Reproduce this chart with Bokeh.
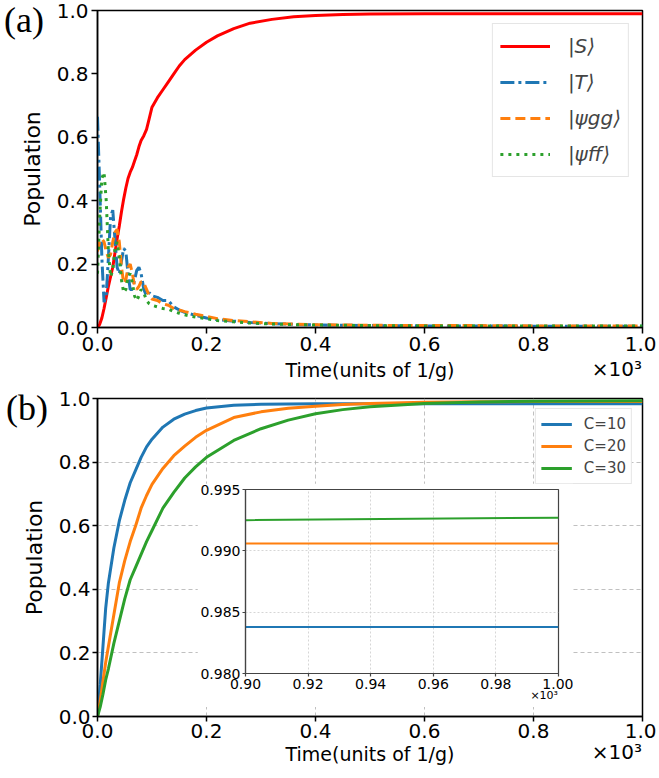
from bokeh.plotting import figure
from bokeh.models import Range1d, FixedTicker, PrintfTickFormatter, Legend, LegendItem, Div, Spacer
from bokeh.layouts import column, row
from bokeh.embed import file_html
from bokeh.resources import INLINE

# ---------------- data (time in units of 10^3 / g) ----------------
t_a = [0.0, 0.004, 0.008, 0.012, 0.016, 0.020, 0.024, 0.028, 0.032, 0.036,
       0.040, 0.044, 0.048, 0.052, 0.056, 0.060, 0.064, 0.068, 0.072, 0.076,
       0.080, 0.085, 0.090, 0.095, 0.100, 0.110, 0.120, 0.130, 0.140, 0.150,
       0.160, 0.180, 0.200, 0.220, 0.250, 0.280, 0.320, 0.360, 0.400, 0.450,
       0.500, 0.600, 0.700, 0.800, 0.900, 1.000]
pop_S = [0.0, 0.01, 0.03, 0.06, 0.095, 0.13, 0.16, 0.19, 0.235, 0.28,
         0.32, 0.365, 0.405, 0.44, 0.47, 0.49, 0.505, 0.525, 0.545, 0.57,
         0.59, 0.605, 0.625, 0.66, 0.695, 0.725, 0.75, 0.775, 0.80, 0.825,
         0.845, 0.875, 0.90, 0.92, 0.943, 0.96, 0.972, 0.98, 0.984, 0.987,
         0.989, 0.99, 0.99, 0.99, 0.99, 0.99]
pop_T = [0.665, 0.45, 0.22, 0.08, 0.10, 0.22, 0.35, 0.37, 0.28, 0.19,
         0.17, 0.21, 0.25, 0.24, 0.17, 0.12, 0.12, 0.15, 0.18, 0.19,
         0.17, 0.12, 0.10, 0.11, 0.10, 0.095, 0.085, 0.085, 0.065, 0.055,
         0.048, 0.038, 0.03, 0.025, 0.02, 0.016, 0.012, 0.01, 0.008, 0.007,
         0.006, 0.005, 0.005, 0.004, 0.004, 0.004]
pop_gg = [0.24, 0.27, 0.28, 0.27, 0.24, 0.22, 0.23, 0.27, 0.30, 0.31,
          0.27, 0.19, 0.14, 0.15, 0.19, 0.20, 0.17, 0.13, 0.12, 0.13,
          0.145, 0.14, 0.12, 0.10, 0.09, 0.085, 0.075, 0.07, 0.06, 0.055,
          0.05, 0.042, 0.035, 0.028, 0.022, 0.018, 0.013, 0.011, 0.009, 0.008,
          0.007, 0.006, 0.006, 0.005, 0.005, 0.005]
pop_ff = [0.17, 0.35, 0.47, 0.49, 0.40, 0.24, 0.16, 0.18, 0.25, 0.27,
          0.22, 0.15, 0.11, 0.12, 0.16, 0.17, 0.14, 0.10, 0.085, 0.10,
          0.12, 0.11, 0.085, 0.075, 0.07, 0.065, 0.06, 0.058, 0.05, 0.045,
          0.04, 0.033, 0.028, 0.022, 0.018, 0.014, 0.011, 0.009, 0.008, 0.007,
          0.006, 0.005, 0.005, 0.005, 0.005, 0.005]

t_b = [0.0, 0.005, 0.01, 0.015, 0.02, 0.03, 0.04, 0.05, 0.06, 0.07,
       0.08, 0.09, 0.10, 0.12, 0.14, 0.16, 0.18, 0.20, 0.25, 0.30,
       0.35, 0.40, 0.45, 0.50, 0.60, 0.70, 0.80, 0.90, 1.00]
pop_c10 = [0.0, 0.10, 0.22, 0.34, 0.42, 0.53, 0.615, 0.68, 0.735, 0.775,
           0.815, 0.848, 0.872, 0.91, 0.935, 0.951, 0.962, 0.97, 0.979, 0.982,
           0.983, 0.9835, 0.9837, 0.9838, 0.9838, 0.9838, 0.9838, 0.9838, 0.9838]
pop_c20 = [0.0, 0.05, 0.11, 0.17, 0.22, 0.32, 0.42, 0.49, 0.55, 0.60,
           0.655, 0.695, 0.73, 0.78, 0.82, 0.85, 0.878, 0.90, 0.94, 0.958,
           0.969, 0.976, 0.981, 0.984, 0.988, 0.9897, 0.9903, 0.9906, 0.9906]
pop_c30 = [0.0, 0.03, 0.07, 0.115, 0.15, 0.23, 0.30, 0.37, 0.43, 0.47,
           0.51, 0.55, 0.585, 0.655, 0.705, 0.75, 0.785, 0.815, 0.868, 0.905,
           0.932, 0.952, 0.965, 0.974, 0.984, 0.989, 0.9915, 0.9925, 0.9927]

main_ticks = [0.0, 0.2, 0.4, 0.6, 0.8, 1.0]
inset_xticks = [0.90, 0.92, 0.94, 0.96, 0.98, 1.00]
inset_yticks = [0.980, 0.985, 0.990, 0.995]

legend_a = ["|S\u27e9", "|T\u27e9", "|\u03c8gg\u27e9", "|\u03c8ff\u27e9"]
legend_b = ["C=10", "C=20", "C=30"]
panel_tags = ["(a)", "(b)"]
scale_tag = "\u00d710\u00b3"

BLUE, ORANGE, GREEN, RED = "#1f77b4", "#ff7f0e", "#2ca02c", "#ff0000"
FONT = "DejaVu Sans"


def style_axes(p, tick_fs="20px", color="black", lw=1.5, tick_out=6, standoff=3):
    for ax in (p.xaxis[0], p.yaxis[0]):
        ax.axis_line_color = color
        ax.axis_line_width = lw
        ax.major_tick_line_color = color
        ax.major_tick_line_width = lw
        ax.major_tick_in = 0
        ax.major_tick_out = tick_out
        ax.minor_tick_line_color = None
        ax.major_label_text_font = FONT
        ax.major_label_text_font_size = tick_fs
        ax.major_label_text_color = "black"
        ax.major_label_standoff = standoff
        ax.axis_label_text_font = FONT
        ax.axis_label_text_font_style = "normal"
        ax.axis_label_text_color = "black"
        ax.axis_label_text_font_size = "19px"
    p.outline_line_color = color
    p.outline_line_width = lw
    p.outline_line_alpha = 1.0


# ---------------- panel (a) ----------------
pa = figure(width=656, height=388, x_range=Range1d(0, 1), y_range=Range1d(0, 1),
            output_backend="svg", toolbar_location=None,
            min_border_left=97, min_border_right=14, min_border_top=10,
            min_border_bottom=61, background_fill_color="white",
            border_fill_color="white")
style_axes(pa)
pa.yaxis.axis_label_text_font_size = "22px"
pa.grid.visible = False
pa.xaxis.ticker = FixedTicker(ticks=main_ticks)
pa.yaxis.ticker = FixedTicker(ticks=main_ticks)
pa.xaxis.formatter = PrintfTickFormatter(format="%.1f")
pa.yaxis.formatter = PrintfTickFormatter(format="%.1f")
pa.xaxis.axis_label = "Time(units of 1/g)"
pa.yaxis.axis_label = "Population"
pa.xaxis.axis_label_standoff = 5
pa.yaxis.axis_label_standoff = 9

rS = pa.line(t_a, pop_S, line_color=RED, line_width=3)
rT = pa.line(t_a, pop_T, line_color=BLUE, line_width=3, line_dash="14 4 3 4")
rgg = pa.line(t_a, pop_gg, line_color=ORANGE, line_width=3, line_dash="10 5")
rff = pa.line(t_a, pop_ff, line_color=GREEN, line_width=3, line_dash="3 5")

leg_a = Legend(items=[LegendItem(label=l, renderers=[r]) for l, r in
                      zip(legend_a, [rS, rT, rgg, rff])],
               location="top_right", margin=13, padding=7, spacing=6,
               glyph_width=50, glyph_height=30, label_height=30,
               label_standoff=18, label_text_font=FONT,
               label_text_font_size="20px", label_text_font_style="italic",
               border_line_color="#cccccc", border_line_width=1,
               background_fill_color="white", background_fill_alpha=0.9)
pa.add_layout(leg_a)

# ---------------- panel (b) ----------------
pb = figure(width=656, height=382, x_range=Range1d(0, 1), y_range=Range1d(0, 1),
            output_backend="svg", toolbar_location=None,
            min_border_left=97, min_border_right=14, min_border_top=10,
            min_border_bottom=54, background_fill_color="white",
            border_fill_color="white")
style_axes(pb, tick_out=5, standoff=2)
pb.yaxis.axis_label_text_font_size = "22px"
pb.xaxis.ticker = FixedTicker(ticks=main_ticks)
pb.yaxis.ticker = FixedTicker(ticks=main_ticks)
pb.xaxis.formatter = PrintfTickFormatter(format="%.1f")
pb.yaxis.formatter = PrintfTickFormatter(format="%.1f")
pb.xaxis.axis_label = "Time(units of 1/g)"
pb.yaxis.axis_label = "Population"
pb.xaxis.axis_label_standoff = 2
pb.yaxis.axis_label_standoff = 9
pb.grid.grid_line_color = "#b0b0b0"
pb.grid.grid_line_dash = "4 3"
pb.grid.grid_line_width = 1
pb.grid.grid_line_alpha = 0.8

r10 = pb.line(t_b, pop_c10, line_color=BLUE, line_width=3)
r20 = pb.line(t_b, pop_c20, line_color=ORANGE, line_width=3)
r30 = pb.line(t_b, pop_c30, line_color=GREEN, line_width=3)

leg_b = Legend(items=[LegendItem(label=l, renderers=[r]) for l, r in
                      zip(legend_b, [r10, r20, r30])],
               location="top_right", margin=10, padding=5, spacing=2,
               glyph_width=31, glyph_height=20, label_height=20,
               label_standoff=12, label_text_font=FONT,
               label_text_font_size="15px",
               border_line_color="#cccccc", border_line_width=1,
               background_fill_color="white", background_fill_alpha=1.0)
pb.add_layout(leg_b)

# ---------------- inset (a row pulled up over panel b) ----------------
flow_y = 388 + 382          # bottom of the two stacked panels
IN_TOP, IN_LEFT, IN_W, IN_H = 483, 197, 376, 224
pin = figure(width=IN_W, height=IN_H, x_range=Range1d(0.9, 1.0),
             y_range=Range1d(0.98, 0.995), output_backend="svg",
             toolbar_location=None, min_border_left=45, min_border_right=15,
             min_border_top=6, min_border_bottom=34,
             background_fill_color="white", border_fill_color="white")
style_axes(pin, tick_fs="14px", color="#444444", lw=1.2, tick_out=3, standoff=2)
pin.xaxis.ticker = FixedTicker(ticks=inset_xticks)
pin.yaxis.ticker = FixedTicker(ticks=inset_yticks)
pin.xaxis.formatter = PrintfTickFormatter(format="%.2f")
pin.yaxis.formatter = PrintfTickFormatter(format="%.3f")
pin.grid.grid_line_color = "#cccccc"
pin.grid.grid_line_dash = "2 2"
pin.grid.grid_line_width = 0.8
pin.line(t_b, pop_c10, line_color=BLUE, line_width=2)
pin.line(t_b, pop_c20, line_color=ORANGE, line_width=2)
pin.line(t_b, pop_c30, line_color=GREEN, line_width=2)

inset_row = row(Spacer(width=IN_LEFT, height=IN_H), pin,
                margin=(IN_TOP - flow_y, 0, 0, 0),
                styles={"position": "relative", "z-index": "5"})
flow_y = IN_TOP + IN_H

# ---------------- free texts: (a), (b), x10^3 ----------------
texts = []


def add_text(txt, top, left, w, h, font, size, align="left"):
    global flow_y
    d = Div(text=txt, width=w, height=h, margin=(top - flow_y, 0, 0, left),
            styles={"position": "relative", "z-index": "10",
                    "font-family": font, "font-size": size,
                    "line-height": f"{h}px", "color": "black",
                    "text-align": align, "white-space": "nowrap"})
    flow_y = top + h
    texts.append(d)


add_text(panel_tags[0], 0, 4, 50, 40, "Liberation Serif", "36px")
add_text(scale_tag, 357, 572, 70, 24, FONT, "20px", "right")
add_text(panel_tags[1], 388, 6, 50, 40, "Liberation Serif", "36px")
add_text(scale_tag, 740, 572, 70, 24, FONT, "20px", "right")
add_text(scale_tag, 689, 508, 50, 14, FONT, "11px", "right")

layout = column(pa, pb, inset_row, *texts, spacing=0)
open("out.html", "w").write(file_html(layout, INLINE))
